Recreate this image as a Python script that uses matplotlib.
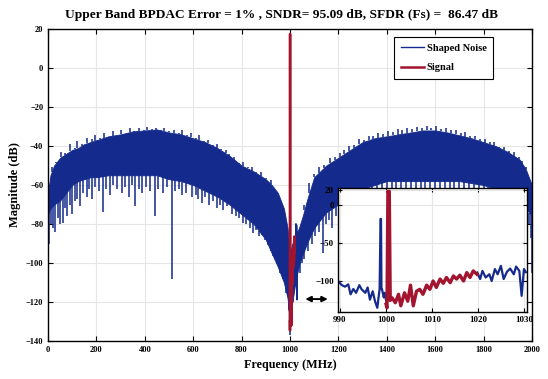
import numpy as np
import matplotlib.pyplot as plt

plt.rcParams['font.family'] = ['Liberation Serif', 'DejaVu Serif']
plt.rcParams['font.weight'] = 'bold'

# shaped noise band over the full span (MHz, dB)
band_f = [0, 10, 25, 50, 75, 100, 125, 150, 175, 200, 250, 300, 350, 400, 450,
          500, 550, 600, 650, 700, 750, 800, 850, 900, 925, 950, 975, 990, 1000,
          1010, 1025, 1040, 1055, 1070, 1085, 1100, 1150, 1200, 1250, 1300, 1350,
          1400, 1450, 1500, 1550, 1600, 1650, 1700, 1750, 1800, 1850, 1900, 1950,
          1975, 2000]
band_top = [-64, -55, -50, -46, -44, -42, -41, -39, -38, -37, -35, -34, -32.5, -32, -31.5,
            -33, -34, -36, -38, -41, -45, -50, -53, -57, -60, -64, -72, -82, -95,
            -90, -86, -81, -75, -68, -62, -56, -50, -46, -42, -38, -36,
            -35, -34, -33, -32, -32, -33, -34.5, -36, -38, -40, -43, -47,
            -52, -60]
band_bot = [-75, -72, -70, -68, -64, -60, -58, -57, -56, -56, -55, -55, -55, -55, -55,
            -57, -58, -60, -63, -66, -70, -75, -80, -88, -95, -102, -110, -118, -130,
            -120, -108, -100, -95, -90, -86, -82, -74, -70, -66, -62, -60,
            -58, -58, -58, -58, -58, -58, -58, -59, -60, -62, -65, -68,
            -72, -76]

# short peaks sticking out of the top of the band
peak_f = [15, 35, 55, 70, 90, 110, 120, 140, 160, 180, 195, 215, 230, 250, 270,
          285, 300, 320, 340, 355, 375, 395, 410, 430, 445, 465, 480, 500, 520,
          540, 555, 575, 590, 610, 625, 645, 660, 680, 700, 715, 735, 750, 770,
          790, 805, 825, 845, 860, 880, 900, 920,
          1060, 1080, 1100, 1120, 1140, 1165, 1185, 1205, 1225, 1245, 1265, 1285,
          1305, 1325, 1345, 1365, 1385, 1405, 1425, 1445, 1465, 1485, 1505, 1525,
          1545, 1565, 1585, 1605, 1625, 1645, 1665, 1685, 1705, 1725, 1745, 1765,
          1785, 1805, 1825, 1845, 1865, 1885, 1905, 1925, 1945, 1960, 1975]
peak_db = [-51, -48.5, -43, -43.5, -39, -41, -37.5, -39, -36, -36.5, -34.5, -36, -33.5, -35, -32.5,
           -34.5, -32, -33.5, -30.5, -33, -31, -32, -30, -31.5, -30.5, -32.5, -31, -32.5, -32,
           -33.5, -32, -34.5, -33.5, -36, -34.5, -37.5, -37, -39.5, -39, -41.5, -42, -44, -45.5,
           -48.5, -48, -50.5, -50.5, -53.5, -53.5, -56.5, -57.5,
           -70, -59, -54.5, -50.5, -49.5, -46, -45.5, -43.5, -42, -40, -39.5, -36.5,
           -37, -35, -35, -33.5, -34, -32.5, -33, -31.5, -32, -31, -31.5, -30,
           -31, -29.5, -31, -29.5, -31.5, -31, -32, -32, -33.5, -33, -35, -35,
           -36.5, -36.5, -38, -38, -40.5, -40.5, -42.5, -43, -45.5, -47.5, -50.5]

# single-bin dips below the band
dip_f = [0, 5, 12, 20, 29, 40, 50, 62, 70, 80, 92, 99, 110, 120, 132, 145, 160,
         170, 182, 195, 210, 227, 240, 256, 270, 285, 306, 320, 335, 348, 360,
         375, 390, 405, 420, 442, 455, 475, 490, 512, 525, 540, 555, 570, 595,
         610, 622, 636, 650, 665, 680, 698, 712, 725, 740, 760, 775, 790, 806,
         820, 835, 847, 860, 872, 884, 896, 909, 920, 930, 945, 959, 970, 985,
         1000, 1012, 1025, 1041, 1050, 1060, 1075, 1090, 1105, 1120, 1136, 1150,
         1163, 1174, 1190, 1210, 1225, 1240, 1260, 1280, 1300, 1320, 1340, 1360,
         1380, 1400, 1420, 1440, 1460, 1480, 1500, 1520, 1540, 1560, 1580, 1600,
         1620, 1640, 1660, 1680, 1700, 1720, 1740, 1760, 1780, 1800, 1820, 1840,
         1860, 1880, 1900, 1920, 1940, 1960, 1979, 1990, 1995, 2000]
dip_db = [-108, -90, -80, -82, -84, -77, -80, -79.5, -72, -76, -70, -75, -68, -67, -71, -64, -66,
          -62, -67, -61, -63, -74, -62, -65, -60, -62, -64, -61, -66, -60, -71,
          -62, -64, -61, -63, -76, -62, -64, -61, -108, -63, -62, -65, -64, -66,
          -65, -67, -69, -66, -70, -68, -72, -70, -73, -71, -75, -76, -77, -79.5,
          -80, -82, -84.6, -83, -86, -80, -88, -86.7, -90, -92, -96, -95, -102, -112,
          -137, -120, -112, -105, -100, -98, -94, -90, -86, -84, -95, -80,
          -78, -82, -76, -78, -72, -70, -70, -68, -67, -66, -65, -68,
          -64, -66, -63, -65, -64, -66, -62, -65, -63, -66, -62, -64,
          -66, -62, -65, -63, -66, -64, -67, -65, -68, -66, -70, -68,
          -72, -70, -74, -72, -78, -76, -82, -80, -87, -105]

# zoomed noise trace next to the tone
noise_f = [989.6, 990.4, 991.1, 991.8, 992.3, 992.9, 993.5, 994.2, 994.7, 995.5,
           996.0, 996.5, 997.1, 997.6, 998.1, 998.6, 998.8, 998.9, 999.0, 999.1,
           999.5, 999.7, 1000.0]
noise_db = [-99.6, -105, -107, -104, -117, -110, -115, -105, -110.5, -115,
            -108, -124, -113, -126, -134.6, -110, -18.4, -18.4, -110, -110,
            -121, -115, -125]
noise_f2 = [1019.8, 1020.4, 1020.9, 1021.6, 1022.4, 1022.9, 1023.6, 1024.2, 1024.9,
            1025.5, 1026.2, 1026.9, 1027.7, 1028.2, 1028.9, 1029.4, 1029.9, 1030.3]
noise_db2 = [-88.6, -97, -86.4, -95, -90.8, -99.6, -84, -90.8, -79.8,
             -97, -87.7, -83.3, -90.8, -80.7, -86.4, -119, -84, -88]

# signal trace
sig_f = [1000.0, 1000.2, 1000.4, 1000.5, 1000.7, 1000.9, 1001.3, 1002.0, 1002.7,
         1003.2, 1004.0, 1004.7, 1005.3, 1005.9, 1006.6, 1007.3, 1008.0, 1008.8,
         1009.5, 1010.2, 1010.9, 1011.7, 1012.4, 1013.1, 1013.9, 1014.6, 1015.3,
         1016.0, 1016.8, 1017.5, 1018.2, 1018.9, 1019.7]
sig_db = [-130, -134.6, 17.5, 17.5, 17.5, -125, -121.5, -128, -117,
          -132, -115, -126, -105, -132, -113, -110.5, -117, -105,
          -110.5, -99.6, -108, -97, -102.6, -95, -101.8, -93, -97,
          -92, -99.6, -88.6, -95, -86.4, -90.8]

blue = '#142a8c'
red = '#a3142f'

fig = plt.figure(figsize=(5.48, 3.79), dpi=100)
ax = fig.add_axes([0.0876, 0.1003, 0.883, 0.823])

ax.fill_between(band_f, band_bot, band_top, color=blue, lw=0.6, edgecolor=blue)
ax.vlines(peak_f, np.interp(peak_f, band_f, band_top), peak_db, color=blue, lw=1.1)
ax.vlines(dip_f, np.interp(dip_f, band_f, band_bot), dip_db, color=blue, lw=1.1)
ax.plot(noise_f, noise_db, color=blue, lw=0.8)
ax.plot(noise_f2, noise_db2, color=blue, lw=0.8)
ax.plot(band_f[0:1], band_top[0:1], color=blue, lw=1, label='Shaped Noise')
ax.plot(sig_f, sig_db, color=red, lw=1.8, label='Signal')

ax.set_xlim(0, 2000)
ax.set_ylim(-140, 20)
ax.set_xticks(np.arange(0, 2001, 200))
ax.set_yticks(np.arange(-140, 21, 20))
ax.grid(True, color='#e6e6e6', lw=0.8)
ax.set_axisbelow(True)
ax.tick_params(direction='in', top=True, right=True, length=3.5, width=0.8, labelsize=6)
for s in ax.spines.values():
    s.set_linewidth(1.0)
ax.set_xlabel('Frequency (MHz)', fontsize=8.7, fontweight='bold', labelpad=4)
ax.set_ylabel('Magnitude (dB)', fontsize=9, fontweight='bold', labelpad=3)
ax.set_title('Upper Band BPDAC Error = 1% , SNDR= 95.09 dB, SFDR (Fs) =  86.47 dB',
             fontsize=9.6, fontweight='bold', pad=8, x=0.482)
leg = ax.legend(loc='upper right', bbox_to_anchor=(0.919, 0.974), borderaxespad=0,
                fontsize=7.5, fancybox=False, edgecolor='k', framealpha=1,
                handlelength=2.3, handletextpad=0.2, borderpad=0.6, labelspacing=1.0)
leg.get_frame().set_linewidth(0.8)

ax.annotate('', xy=(1052, -118.5), xytext=(1168, -118.5),
            arrowprops=dict(arrowstyle='<|-|>', color='k', lw=1.4,
                            mutation_scale=8))

# inset around the tone
ins = fig.add_axes([0.617, 0.177, 0.345, 0.327])
ins.plot(noise_f, noise_db, color=blue, lw=1.6)
ins.plot(noise_f2, noise_db2, color=blue, lw=1.6)
ins.plot(sig_f, sig_db, color=red, lw=2.4)
ins.set_xlim(989.6, 1030.6)
ins.set_ylim(-140, 22)
ins.set_xticks([990, 1000, 1010, 1020, 1030])
ins.set_yticks([-100, -50, 0, 20])
ins.grid(True, color='#e6e6e6', lw=0.8)
ins.set_axisbelow(True)
ins.tick_params(direction='in', top=True, right=True, length=3, width=0.8,
                labelsize=6.5, pad=3)
for s in ins.spines.values():
    s.set_linewidth(1.0)

fig.savefig('out.png', dpi=100)
